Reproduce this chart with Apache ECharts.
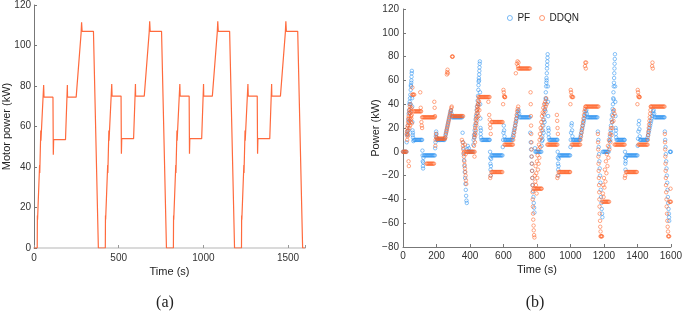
<!DOCTYPE html>
<html>
<head>
<meta charset="utf-8">
<script src="https://cdn.jsdelivr.net/npm/echarts@6/dist/echarts.min.js"></script>
<style>
  html, body { margin: 0; padding: 0; background: #fff; }
  #chart { width: 685px; height: 317px; }
</style>
</head>
<body>
<div id="chart"></div>
<script>
// (a) motor power over the drive cycle: [time s, kW]
const motorPoints = [
  [0,0],[19,0],[20,16],[21,14],[33,41],[34,37],[40,58],[41,53],[57,80.5],[59,74.5],[112,74.5],[114,46],[116,53.5],[186,53.5],[197,80.5],[198,74.5],[249,74.5],[278,106],[281,111.5],[284,107],[351,107],[380,0],
  [421,0],[422,16],[423,14],[435,41],[436,37],[442,58],[443,53],[459,81],[461,75],[514,75],[516,46.5],[518,54],[588,54],[599,81],[600,75],[651,75],[680,106.5],[683,112],[686,107],[753,107],[782,0],
  [823,0],[824,16],[825,14],[837,41],[838,37],[844,58],[845,53],[861,81],[863,75],[916,75],[918,46.5],[920,54],[990,54],[1001,81],[1002,75],[1053,75],[1082,106.5],[1085,112],[1088,107],[1155,107],[1184,0],
  [1225,0],[1226,16],[1227,14],[1239,41],[1240,37],[1246,58],[1247,53],[1263,81],[1265,75],[1318,75],[1320,46.5],[1322,54],[1392,54],[1403,81],[1404,75],[1455,75],[1484,106.5],[1487,112],[1490,107],[1557,107],[1586,0],[1600,0]
]

// (b) PF power: [time s, kW]
const pfPoints = [
  [0,0],[5,0],[10,0],[15,0],[20,0],
  [22,8],[24,14],[26,17],[28,15],[30,22],[32,27],[33,18],[34,32],[36,35],[37,26],[38,40],[40,42],[41,33],[42,45],[44,48],[45,40],[46,52],[47,56],[48,55],[49,58],[50,60],[51,63],[52,66],[53,68],
  [54,45],[55,38],[56,25],[57,18],[58,14],[59,16],[60,12],[62,9],
  [65,10],[70,10],[75,10],[80,10],[85,10],[90,10],[95,10],[100,10],[105,10],[110,10],[114,10],
  [116,1],[117,-3],[118,-8],[119,-12],[120,-14],[121,-9],[122,-5],
  [125,-3],[130,-3],[135,-3],[140,-3],[145,-3],[150,-3],[155,-3],[160,-3],[165,-3],[170,-3],[175,-3],[180,-3],[185,-3],[190,-3],
  [192,3],[194,8],[196,13],[198,17],[200,15],[202,12],[204,10],
  [208,10],[213,10],[218,10],[223,10],[228,10],[233,10],[238,10],[243,10],[248,10],
  [251,12],[254,14],[257,16],[260,18],[263,20],[266,22],[269,24],[272,26],[275,28],[278,30],[281,32],[284,34],[287,35],[290,32],
  [293,29],[298,29],[303,29],[308,29],[313,29],[318,29],[323,29],[328,29],[333,29],[338,29],[343,29],[348,29],[353,29],
  [356,16],[359,8],[361,3],[363,-2],[365,-7],[367,-12],[369,-17],[371,-22],[373,-27],[375,-32],[377,-37],[379,-41],[381,-43],
  [384,2],[387,5],[390,0],[393,3],[396,0],[401,0],[406,0],[411,0],[416,0],
  [420,6],[422,10],[424,14],[426,12],[428,18],[430,22],[432,16],[434,27],[436,30],[438,24],[440,35],[442,38],[444,32],[446,43],[448,47],[449,40],[450,52],[451,56],[452,59],[453,62],[454,60],[455,65],[456,68],[457,71],[458,74],[459,76],
  [460,50],[461,40],[462,28],[463,20],[464,15],[465,18],[466,12],
  [469,10],[474,10],[479,10],[484,10],[489,10],[494,10],[499,10],[504,10],[509,10],[514,10],[518,10],
  [520,0],[521,-5],[522,-10],[523,-15],[524,-20],[525,-12],[526,-6],
  [529,-3],[534,-3],[539,-3],[544,-3],[549,-3],[554,-3],[559,-3],[564,-3],[569,-3],[574,-3],[579,-3],[584,-3],[589,-3],[594,-3],
  [596,4],[598,10],[600,16],[602,22],[604,18],[606,13],[608,10],
  [612,10],[617,10],[622,10],[627,10],[632,10],[637,10],[642,10],[647,10],[652,10],
  [655,12],[658,14],[661,16],[664,18],[667,20],[670,22],[673,24],[676,26],[679,28],[682,30],[685,32],[688,34],[691,35],[694,32],
  [697,29],[702,29],[707,29],[712,29],[717,29],[722,29],[727,29],[732,29],[737,29],[742,29],[747,29],[752,29],[757,29],
  [760,16],[763,8],[765,2],[767,-4],[769,-10],[771,-16],[773,-22],[775,-28],[777,-33],[779,-38],[781,-43],[783,-47],[785,-51],
  [788,3],[791,0],[796,0],[801,0],[806,0],[811,0],[816,0],[821,0],
  [826,0],[828,5],[830,9],[832,13],[834,10],[836,18],[838,22],[840,16],[842,27],[844,31],[846,25],[848,36],[850,40],[851,34],[852,45],[853,50],[854,44],[855,55],[856,58],[857,62],[858,60],[859,66],[860,70],[861,73],[862,76],[863,79],[864,82],
  [865,55],[866,42],[867,30],[868,20],[869,15],[870,18],[871,12],
  [874,10],[879,10],[884,10],[889,10],[894,10],[899,10],[904,10],[909,10],[914,10],[919,10],[922,10],
  [924,0],[925,-5],[926,-10],[927,-15],[928,-20],[929,-12],[930,-6],
  [933,-3],[938,-3],[943,-3],[948,-3],[953,-3],[958,-3],[963,-3],[968,-3],[973,-3],[978,-3],[983,-3],[988,-3],[993,-3],[998,-3],
  [1000,4],[1002,10],[1004,16],[1006,22],[1008,24],[1010,18],[1012,13],[1014,10],
  [1018,10],[1023,10],[1028,10],[1033,10],[1038,10],[1043,10],[1048,10],[1053,10],[1056,10],
  [1059,12],[1062,14],[1065,16],[1068,18],[1071,20],[1074,22],[1077,24],[1080,26],[1083,28],[1086,30],[1089,32],[1092,34],[1095,35],[1098,32],
  [1101,29],[1106,29],[1111,29],[1116,29],[1121,29],[1126,29],[1131,29],[1136,29],[1141,29],[1146,29],[1151,29],[1156,29],[1161,29],
  [1164,17],[1167,10],[1169,4],[1171,-2],[1173,-8],[1175,-14],[1177,-20],[1179,-26],[1181,-32],[1183,-38],[1185,-43],[1187,-48],[1189,-52],[1191,-55],
  [1193,0],[1198,0],[1203,0],[1208,0],[1213,0],[1218,0],[1223,0],[1228,0],
  [1232,4],[1234,9],[1236,13],[1238,10],[1240,18],[1242,22],[1244,16],[1246,27],[1248,31],[1250,25],[1252,36],[1254,40],[1255,34],[1256,45],[1257,50],[1258,44],[1259,55],[1260,58],[1261,62],[1262,66],[1263,70],[1264,74],[1265,78],[1266,82],
  [1267,55],[1268,42],[1269,30],[1270,20],[1271,15],[1272,18],[1273,12],
  [1276,10],[1281,10],[1286,10],[1291,10],[1296,10],[1301,10],[1306,10],[1311,10],[1316,10],[1321,10],[1324,10],
  [1326,0],[1327,-5],[1328,-10],[1329,-15],[1330,-8],[1331,-5],
  [1335,-3],[1340,-3],[1345,-3],[1350,-3],[1355,-3],[1360,-3],[1365,-3],[1370,-3],[1375,-3],[1380,-3],[1385,-3],[1390,-3],[1395,-3],[1400,-3],
  [1402,5],[1404,11],[1406,17],[1408,23],[1410,26],[1412,19],[1414,13],[1416,10],
  [1420,10],[1425,10],[1430,10],[1435,10],[1440,10],[1445,10],[1450,10],[1455,10],[1458,10],
  [1461,12],[1464,14],[1467,16],[1470,18],[1473,20],[1476,22],[1479,24],[1482,26],[1485,28],[1488,30],[1491,32],[1494,34],[1497,35],[1500,32],
  [1503,29],[1508,29],[1513,29],[1518,29],[1523,29],[1528,29],[1533,29],[1538,29],[1543,29],[1548,29],[1553,29],[1558,29],[1562,29],
  [1564,17],[1566,10],[1568,4],[1570,-2],[1572,-8],[1574,-14],[1576,-20],[1578,-26],[1580,-32],[1582,-38],[1584,-43],[1586,-48],[1588,-52],[1589,-55],[1590,-58],
  [1594,0],[1597,0],[1600,0]
]

// (b) DDQN power: [time s, kW]
const ddqnPoints = [
  [0,0],[4,0],[8,0],[12,0],[16,0],[20,0],
  [22,15],[24,17],[25,10],[26,20],[27,13],[28,22],[29,18],[30,25],[31,14],[32,28],[33,-8],[34,30],[35,-12],[36,24],[37,33],[38,20],[39,35],[40,28],[41,38],[42,22],[43,32],[44,40],[45,27],[46,36],[47,25],[48,30],[49,34],[50,28],[51,37],[52,31],[53,24],[56,54],
  [55,48],[59,48],[63,48],[67,48],
  [64,34],[69,34],[74,34],[79,34],[84,34],[89,34],[94,34],[99,34],[104,34],[108,34],
  [103,50],[106,37],[110,25],[112,22],[114,20],
  [114,29],[119,29],[124,29],[129,29],[134,29],[139,29],[144,29],[149,29],[154,29],[159,29],[164,29],[169,29],[174,29],[179,29],[184,29],[189,29],
  [140,-10],[145,-10],[150,-10],[155,-10],[160,-10],[165,-10],[170,-10],[175,-10],[180,-10],[185,-10],
  [187,42],[189,37],[191,30],[193,5],[195,10],[197,15],[199,12],
  [202,11],[207,11],[212,11],[217,11],[222,11],[227,11],[232,11],[237,11],[242,11],[247,11],[250,11],
  [253,12],[256,15],[259,17],[262,19],[262,65],[264,67],[266,69],[268,66],[265,21],[268,23],[271,25],[274,27],[277,29],[280,31],[283,33],[286,35],[289,37],[291,38],[293,80],[295,80],[297,80],
  [294,30],[299,30],[304,30],[309,30],[314,30],[319,30],[324,30],[329,30],[334,30],[339,30],[344,30],[349,30],[354,30],[359,30],
  [352,10],[356,8],[358,5],[360,2],[362,-1],[364,-4],[366,-8],[368,-11],[370,-14],[372,-17],[374,-20],[376,-24],[378,-27],[366,0],[370,6],[374,-2],
  [378,0],[383,0],[388,0],[393,0],[398,0],[403,0],[408,0],[413,0],[418,0],[423,0],[428,0],
  [424,5],[426,12],[427,-4],[428,15],[430,8],[431,20],[432,14],[434,24],[435,18],[436,28],[438,22],[439,32],[440,26],[442,35],[443,29],[444,38],[446,33],[447,40],[448,36],[450,43],[451,30],[452,39],[454,42],[456,35],
  [452,46],[457,46],[462,46],[467,46],[472,46],[477,46],[482,46],[487,46],[492,46],[497,46],[502,46],[507,46],[512,46],[517,46],
  [510,42],[515,31],[518,27],[520,23],[522,20],[524,15],[521,-22],[523,-20],
  [530,25],[535,25],[540,25],[545,25],[550,25],[555,25],[560,25],[565,25],[570,25],[575,25],[580,25],[585,25],[590,25],[595,25],
  [528,-17],[533,-17],[538,-17],[543,-17],[548,-17],[553,-17],[558,-17],[563,-17],[568,-17],[573,-17],[578,-17],[583,-17],[588,-17],[593,-17],
  [598,40],[600,52],[602,50],[604,47],[606,46],[608,46],[610,46],
  [606,6],[611,6],[616,6],[621,6],[626,6],[631,6],[636,6],[641,6],[646,6],[651,6],[656,6],
  [658,10],[661,13],[664,16],[667,19],[670,22],[673,25],[674,66],[676,28],[679,31],[680,74],[682,34],[684,76],[685,36],[687,72],[688,38],[690,75],
  [688,70],[693,70],[698,70],[703,70],[708,70],[713,70],[718,70],[723,70],[728,70],[733,70],[738,70],[743,70],[748,70],[753,70],[758,70],
  [762,50],[763,40],[764,30],[765,22],[766,15],[767,8],[768,2],[769,-4],[770,-10],[771,-16],[772,-22],[773,-28],[774,-34],[775,-40],[776,-46],[777,-52],[778,-57],[780,-62],[781,-66],[783,-70],[785,-72],
  [780,-31],[785,-31],[790,-31],[795,-31],[800,-31],[805,-31],[810,-31],[815,-31],[820,-31],[825,-31],[828,-31],
  [787,-20],[790,-25],[792,-12],[794,-28],[796,-18],[798,-35],[800,-8],[802,-22],[804,-3],[806,-15],[808,2],[810,-10],[812,6],[814,-5],[816,10],[818,15],[820,4],[822,20],[824,12],[826,25],[828,18],[830,30],[832,22],[834,33],[836,27],[838,37],[840,32],[843,40],[846,35],[849,42],[852,38],[855,45],[858,40],
  [862,6],[867,6],[872,6],[877,6],[882,6],[887,6],[892,6],[897,6],[902,6],[907,6],[912,6],[917,6],[922,6],
  [919,31],[921,26],[923,20],[925,15],[922,-22],[924,-20],
  [930,-17],[935,-17],[940,-17],[945,-17],[950,-17],[955,-17],[960,-17],[965,-17],[970,-17],[975,-17],[980,-17],[985,-17],[990,-17],[995,-17],[998,-17],
  [1000,40],[1002,52],[1004,50],[1006,47],[1008,46],[1012,46],[1016,46],
  [1008,6],[1013,6],[1018,6],[1023,6],[1028,6],[1033,6],[1038,6],[1043,6],[1048,6],[1053,6],[1058,6],
  [1060,10],[1063,13],[1066,16],[1069,19],[1072,22],[1075,25],[1078,28],[1081,31],[1084,34],[1087,36],[1090,38],[1087,72],[1089,75],[1092,70],[1094,75],
  [1092,38],[1097,38],[1102,38],[1107,38],[1112,38],[1117,38],[1122,38],[1127,38],[1132,38],[1137,38],[1142,38],[1147,38],[1152,38],[1157,38],[1162,38],[1167,38],
  [1164,15],[1165,8],[1166,2],[1167,-4],[1168,-10],[1169,-16],[1170,-22],[1171,-28],[1172,-34],[1173,-40],[1174,-46],[1175,-52],[1177,-58],[1178,-63],[1180,-67],
  [1180,-71],[1183,-71],[1186,-71],[1189,-71],
  [1191,-42],[1196,-42],[1201,-42],[1206,-42],[1211,-42],[1216,-42],[1221,-42],[1226,-42],[1231,-42],
  [1194,-35],[1196,-28],[1198,-38],[1200,-22],[1203,-30],[1206,-15],[1209,-25],[1212,-8],[1215,-18],[1218,-2],[1221,-12],[1224,5],[1227,-5],[1230,10],[1233,2],[1236,15],[1239,8],[1242,20],[1245,14],[1248,25],[1251,20],[1254,30],[1257,26],[1260,35],[1263,32],
  [1264,6],[1269,6],[1274,6],[1279,6],[1284,6],[1289,6],[1294,6],[1299,6],[1304,6],[1309,6],[1314,6],[1319,6],[1324,6],
  [1325,-22],[1327,-20],
  [1332,-17],[1337,-17],[1342,-17],[1347,-17],[1352,-17],[1357,-17],[1362,-17],[1367,-17],[1372,-17],[1377,-17],[1382,-17],[1387,-17],[1392,-17],[1397,-17],
  [1400,40],[1402,52],[1404,50],[1406,47],[1408,46],[1411,46],[1414,46],
  [1406,6],[1411,6],[1416,6],[1421,6],[1426,6],[1431,6],[1436,6],[1441,6],[1446,6],[1451,6],[1456,6],[1461,6],
  [1462,10],[1464,14],[1466,17],[1468,20],[1470,23],[1472,26],[1474,29],[1476,32],[1478,35],[1480,38],[1488,72],[1490,75],[1492,70],
  [1482,38],[1487,38],[1492,38],[1497,38],[1502,38],[1507,38],[1512,38],[1517,38],[1522,38],[1527,38],[1532,38],[1537,38],[1542,38],[1547,38],[1552,38],[1557,38],[1562,38],
  [1564,15],[1565,8],[1566,2],[1567,-4],[1568,-10],[1569,-16],[1570,-22],[1571,-28],[1572,-34],[1574,-40],[1575,-46],[1577,-52],[1579,-58],[1581,-63],[1583,-67],
  [1584,-71],[1587,-71],[1590,-71],
  [1592,-42],[1596,-42],[1600,-42],[1598,-31]
]

const seriesNames = ['PF', 'DDQN']
const captions = ['(a)', '(b)']

const FONT = '"Liberation Sans", Arial, sans-serif'
const plain = (v) => String(v).replace('-', '\u2212')

function axisBase(extra) {
  return Object.assign({
    type: 'value',
    nameLocation: 'middle',
    nameMoveOverlap: false,
    nameTextStyle: { fontSize: 11, color: '#222', fontFamily: FONT },
    axisLine: { show: true, onZero: false, lineStyle: { color: '#777', width: 1 } },
    axisTick: { show: true, inside: true, length: 3, lineStyle: { color: '#777' } },
    axisLabel: { fontSize: 10, color: '#333', fontFamily: FONT, margin: 4, formatter: plain },
    splitLine: { show: false },
  }, extra)
}

const chart = echarts.init(document.getElementById('chart'))

chart.setOption({
  animation: false,
  backgroundColor: '#fff',
  grid: [
    { left: 33, right: 380, top: 4, bottom: 69 },
    { left: 403, right: 12, top: 9, bottom: 70 },
  ],
  xAxis: [
    axisBase({
      gridIndex: 0, min: 0, max: 1600, interval: 500,
      name: 'Time (s)', nameGap: 18,
      axisLine: { show: true, onZero: false, lineStyle: { color: '#dadada', width: 2 } },
      axisTick: { show: true, inside: true, length: 3, lineStyle: { color: '#999' } },
      axisLabel: { fontSize: 10, color: '#333', fontFamily: FONT, margin: 5,
        formatter: (v) => (v === 1600 ? '' : String(v)) },
    }),
    axisBase({
      gridIndex: 1, min: 0, max: 1600, interval: 200,
      name: 'Time (s)', nameGap: 17,
    }),
  ],
  yAxis: [
    axisBase({
      gridIndex: 0, min: 0, max: 120, interval: 20,
      name: 'Motor power (kW)', nameGap: 22,
      axisLabel: { fontSize: 10, color: '#333', fontFamily: FONT, margin: 3, formatter: plain },
    }),
    axisBase({
      gridIndex: 1, min: -80, max: 120, interval: 20,
      name: 'Power (kW)', nameGap: 22,
    }),
  ],
  legend: {
    data: seriesNames,
    left: 502, top: 8,
    icon: 'circle',
    itemWidth: 5, itemHeight: 5, itemGap: 9,
    itemStyle: { borderWidth: 0.8 },
    textStyle: { fontSize: 10, color: '#222', fontFamily: FONT },
  },
  series: [
    {
      type: 'line',
      xAxisIndex: 0, yAxisIndex: 0,
      data: motorPoints,
      showSymbol: false,
      lineStyle: { color: '#ff6a3d', width: 1.2 },
      silent: true,
    },
    {
      name: seriesNames[0],
      type: 'scatter',
      xAxisIndex: 1, yAxisIndex: 1,
      data: pfPoints,
      symbol: 'circle',
      symbolSize: 3.5,
      itemStyle: { color: 'rgba(0,0,0,0)', borderColor: '#2e93f0', borderWidth: 0.7 },
      silent: true,
    },
    {
      name: seriesNames[1],
      type: 'scatter',
      xAxisIndex: 1, yAxisIndex: 1,
      data: ddqnPoints,
      symbol: 'circle',
      symbolSize: 3.5,
      itemStyle: { color: 'rgba(0,0,0,0)', borderColor: '#ff6228', borderWidth: 0.7 },
      silent: true,
    },
  ],
  graphic: [
    { type: 'text', x: 165, y: 303, style: { text: captions[0], font: '16px "Liberation Serif", serif', fill: '#222', align: 'center', verticalAlign: 'middle' } },
    { type: 'text', x: 535, y: 303, style: { text: captions[1], font: '16px "Liberation Serif", serif', fill: '#222', align: 'center', verticalAlign: 'middle' } },
  ],
})
</script>
</body>
</html>
